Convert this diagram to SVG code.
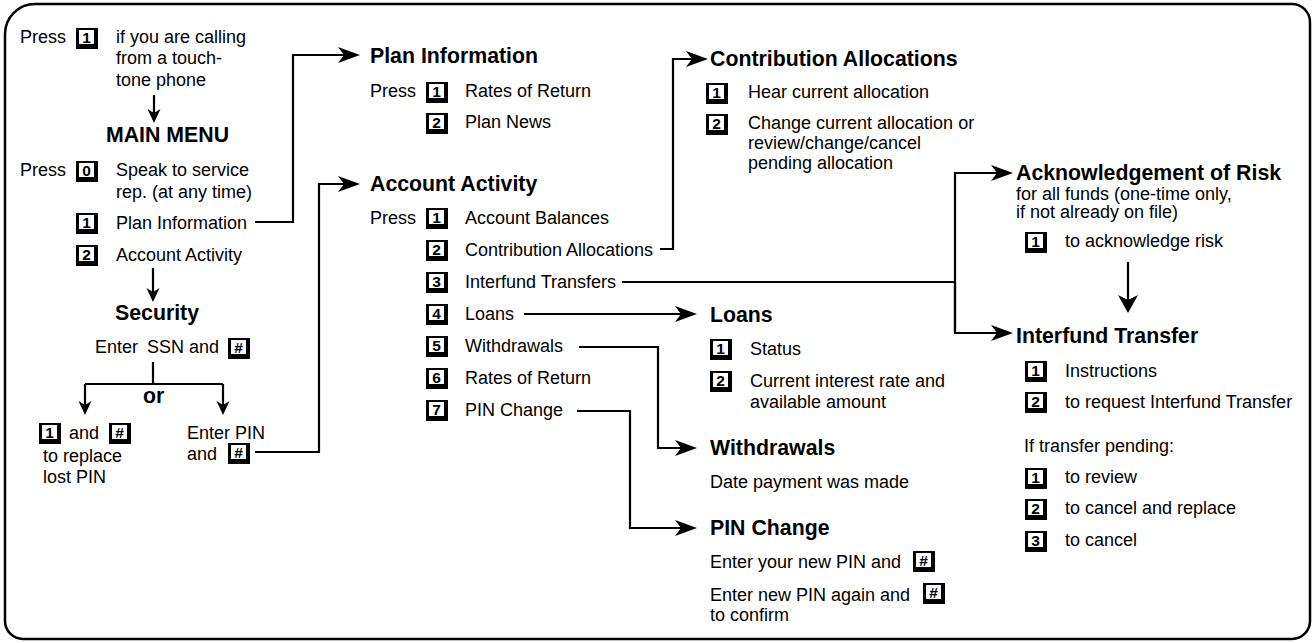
<svg xmlns="http://www.w3.org/2000/svg" xmlns:xlink="http://www.w3.org/1999/xlink" width="1313" height="643" viewBox="0 0 1313 643">
<style>
text{font-family:"Liberation Sans",Arial,Helvetica,sans-serif;fill:#000}
.t{font-size:18px}
.h{font-size:21.3px;font-weight:bold}
.k{font-size:15.5px;font-weight:bold;text-anchor:middle}
.c{fill:none;stroke:#000;stroke-width:2.2}
</style>
<defs>
<g id="key"><rect x="0" y="0" width="22" height="21" fill="#000"/><rect x="3" y="2" width="15" height="14" fill="#fff"/></g>
<marker id="big" markerUnits="userSpaceOnUse" viewBox="-22 -8 22 16" markerWidth="22" markerHeight="16" refX="-4" refY="0" orient="auto"><path d="M0,0 L-22,-8 L-16,0 L-22,8 Z" fill="#000"/></marker>
<marker id="med" markerUnits="userSpaceOnUse" viewBox="-18 -10 18 20" markerWidth="18" markerHeight="20" refX="-4" refY="0" orient="auto"><path d="M0,0 L-18,-10 L-13,0 L-18,10 Z" fill="#000"/></marker>
<marker id="sm" markerUnits="userSpaceOnUse" viewBox="-14 -7 14 14" markerWidth="14" markerHeight="14" refX="-4" refY="0" orient="auto"><path d="M0,0 L-14,-6.5 L-10,0 L-14,6.5 Z" fill="#000"/></marker>
</defs>
<path d="M35,4 H1292 A18,18 0 0 1 1310,22 V621 A18,18 0 0 1 1292,639 H23 A18,18 0 0 1 5,621 V34 A30,30 0 0 1 35,4 Z" fill="#fff" stroke="#000" stroke-width="2.5"/>

<g id="connectors">
<path class="c" d="M154,95 V119" marker-end="url(#sm)"/>
<path class="c" d="M153,268 V298" marker-end="url(#sm)"/>
<path class="c" d="M153,362 V384"/>
<path class="c" d="M85,384 H223"/>
<path class="c" d="M85,384 V411" marker-end="url(#sm)"/>
<path class="c" d="M223,384 V411" marker-end="url(#sm)"/>
<path class="c" d="M255,222 H293 V55 H356" marker-end="url(#big)"/>
<path class="c" d="M255,452 H319 V184 H356" marker-end="url(#big)"/>
<path class="c" d="M660,249 H673 V59 H704" marker-end="url(#big)"/>
<path class="c" d="M622,282 H955"/>
<path class="c" d="M955,333 V173 H1009" marker-end="url(#big)"/>
<path class="c" d="M955,282 V333 H1009" marker-end="url(#big)"/>
<path class="c" d="M524,314 H693" marker-end="url(#big)"/>
<path class="c" d="M579,347 H658 V448 H693" marker-end="url(#big)"/>
<path class="c" d="M577,411 H630 V528 H693" marker-end="url(#big)"/>
<path class="c" d="M1128,262 V309" marker-end="url(#med)"/>
</g>

<g id="start">
<text class="t" x="20" y="43">Press</text>
<use xlink:href="#key" x="76" y="28"/><text class="k" x="86.5" y="43">1</text>
<text class="t" x="116" y="43">if you are calling</text>
<text class="t" x="116" y="64">from a touch-</text>
<text class="t" x="116" y="86">tone phone</text>
</g>

<g id="main-menu">
<text class="h" x="106" y="142">MAIN MENU</text>
<text class="t" x="20" y="176">Press</text>
<use xlink:href="#key" x="76" y="161"/><text class="k" x="86.5" y="176">0</text>
<text class="t" x="116" y="176">Speak to service</text>
<text class="t" x="116" y="198">rep. (at any time)</text>
<use xlink:href="#key" x="76" y="213"/><text class="k" x="86.5" y="228">1</text>
<text class="t" x="116" y="229">Plan Information</text>
<use xlink:href="#key" x="76" y="245"/><text class="k" x="86.5" y="260">2</text>
<text class="t" x="116" y="261">Account Activity</text>
</g>

<g id="security">
<text class="h" x="115" y="320">Security</text>
<text class="t" x="95" y="353">Enter<tspan dx="9">SSN and</tspan></text>
<use xlink:href="#key" x="228" y="338"/><text class="k" x="238.5" y="353">#</text>
<text class="h" x="143" y="403">or</text>
</g>

<g id="lost-pin">
<use xlink:href="#key" x="39" y="423"/><text class="k" x="49.5" y="438">1</text>
<text class="t" x="69" y="439">and</text>
<use xlink:href="#key" x="109" y="423"/><text class="k" x="119.5" y="438">#</text>
<text class="t" x="43" y="462">to replace</text>
<text class="t" x="43" y="483">lost PIN</text>
</g>

<g id="enter-pin">
<text class="t" x="187" y="439">Enter PIN</text>
<text class="t" x="187" y="460">and</text>
<use xlink:href="#key" x="228" y="443"/><text class="k" x="238.5" y="458">#</text>
</g>

<g id="plan-information">
<text class="h" x="370" y="63">Plan Information</text>
<text class="t" x="370" y="97">Press</text>
<use xlink:href="#key" x="426" y="82"/><text class="k" x="436.5" y="97">1</text>
<text class="t" x="465" y="97">Rates of Return</text>
<use xlink:href="#key" x="426" y="113"/><text class="k" x="436.5" y="128">2</text>
<text class="t" x="465" y="128">Plan News</text>
</g>

<g id="account-activity">
<text class="h" x="370" y="191">Account Activity</text>
<text class="t" x="370" y="224">Press</text>
<use xlink:href="#key" x="426" y="208"/><text class="k" x="436.5" y="223">1</text>
<text class="t" x="465" y="224">Account Balances</text>
<use xlink:href="#key" x="426" y="240"/><text class="k" x="436.5" y="255">2</text>
<text class="t" x="465" y="256">Contribution Allocations</text>
<use xlink:href="#key" x="426" y="272"/><text class="k" x="436.5" y="287">3</text>
<text class="t" x="465" y="288">Interfund Transfers</text>
<use xlink:href="#key" x="426" y="304"/><text class="k" x="436.5" y="319">4</text>
<text class="t" x="465" y="320">Loans</text>
<use xlink:href="#key" x="426" y="336"/><text class="k" x="436.5" y="351">5</text>
<text class="t" x="465" y="352">Withdrawals</text>
<use xlink:href="#key" x="426" y="368"/><text class="k" x="436.5" y="383">6</text>
<text class="t" x="465" y="384">Rates of Return</text>
<use xlink:href="#key" x="426" y="400"/><text class="k" x="436.5" y="415">7</text>
<text class="t" x="465" y="416">PIN Change</text>
</g>

<g id="contribution-allocations">
<text class="h" x="710" y="66">Contribution Allocations</text>
<use xlink:href="#key" x="706" y="83"/><text class="k" x="716.5" y="98">1</text>
<text class="t" x="748" y="98">Hear current allocation</text>
<use xlink:href="#key" x="706" y="114"/><text class="k" x="716.5" y="129">2</text>
<text class="t" x="748" y="129">Change current allocation or</text>
<text class="t" x="748" y="149">review/change/cancel</text>
<text class="t" x="748" y="169">pending allocation</text>
</g>

<g id="loans">
<text class="h" x="710" y="322">Loans</text>
<use xlink:href="#key" x="710" y="339"/><text class="k" x="720.5" y="354">1</text>
<text class="t" x="750" y="355">Status</text>
<use xlink:href="#key" x="710" y="371"/><text class="k" x="720.5" y="386">2</text>
<text class="t" x="750" y="387">Current interest rate and</text>
<text class="t" x="750" y="408">available amount</text>
</g>

<g id="withdrawals">
<text class="h" x="710" y="455">Withdrawals</text>
<text class="t" x="710" y="488">Date payment was made</text>
</g>

<g id="pin-change">
<text class="h" x="710" y="535">PIN Change</text>
<text class="t" x="710" y="568">Enter your new PIN and</text>
<use xlink:href="#key" x="913" y="551"/><text class="k" x="923.5" y="566">#</text>
<text class="t" x="710" y="601">Enter new PIN again and</text>
<use xlink:href="#key" x="923" y="583"/><text class="k" x="933.5" y="598">#</text>
<text class="t" x="710" y="621">to confirm</text>
</g>

<g id="acknowledgement-of-risk">
<text class="h" x="1016" y="180">Acknowledgement of Risk</text>
<text class="t" x="1016" y="200">for all funds (one-time only,</text>
<text class="t" x="1016" y="218">if not already on file)</text>
<use xlink:href="#key" x="1025" y="232"/><text class="k" x="1035.5" y="247">1</text>
<text class="t" x="1065" y="247">to acknowledge risk</text>
</g>

<g id="interfund-transfer">
<text class="h" x="1016" y="343">Interfund Transfer</text>
<use xlink:href="#key" x="1025" y="361"/><text class="k" x="1035.5" y="376">1</text>
<text class="t" x="1065" y="377">Instructions</text>
<use xlink:href="#key" x="1025" y="392"/><text class="k" x="1035.5" y="407">2</text>
<text class="t" x="1065" y="408">to request Interfund Transfer</text>
<text class="t" x="1024" y="452">If transfer pending:</text>
<use xlink:href="#key" x="1025" y="468"/><text class="k" x="1035.5" y="483">1</text>
<text class="t" x="1065" y="483">to review</text>
<use xlink:href="#key" x="1025" y="499"/><text class="k" x="1035.5" y="514">2</text>
<text class="t" x="1065" y="514">to cancel and replace</text>
<use xlink:href="#key" x="1025" y="531"/><text class="k" x="1035.5" y="546">3</text>
<text class="t" x="1065" y="546">to cancel</text>
</g>
</svg>
